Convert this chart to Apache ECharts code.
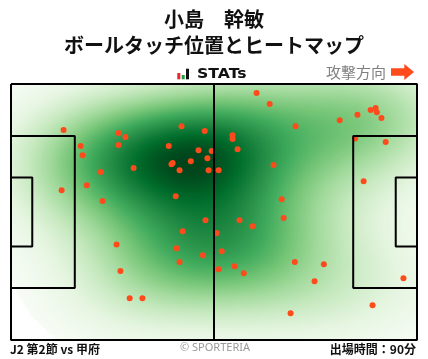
<!DOCTYPE html>
<html><head><meta charset="utf-8">
<script src="https://cdn.jsdelivr.net/npm/echarts@6/dist/echarts.min.js"></script>
<style>html,body{margin:0;padding:0;background:#fff}#c{width:428px;height:359px}</style>
</head><body><div id="c"></div>
<script>
// ---------- data ----------
const titleLines = ['小島　幹敏', 'ボールタッチ位置とヒートマップ'];
const brandLabel = 'STATs';
const directionLabel = '攻撃方向';
const matchLabel = 'J2 第2節 vs 甲府';
const creditLabel = '© SPORTERIA';
const minutesLabel = '出場時間：90分';

// ball touch positions in metres (x: own goal -> attack, y: from top touchline)
const touchX = [13.6,18.0,18.5,27.8,29.6,27.8,23.2,31.7,13.1,19.6,23.7,44.1,50.1,40.8,48.5,51.9,50.8,46.5,41.8,41.5,43.6,51.1,53.7,42.6,57.3,57.3,58.6,63.5,66.9,73.6,67.9,70.0,85.0,89.6,93.0,94.3,94.6,95.8,89.0,96.9,91.2,50.3,44.4,27.3,42.8,49.6,43.6,28.3,30.7,34.0,53.2,54.5,53.7,57.8,60.2,59.1,62.5,70.5,73.4,80.9,78.5,101.5,93.5,72.3];
const touchY = [12.2,16.5,18.9,13.0,14.1,16.2,23.4,22.3,28.2,26.9,31.1,11.2,12.5,16.5,17.6,17.8,19.7,20.5,21.0,21.3,22.9,22.9,22.9,29.8,13.6,14.6,17.3,2.4,5.3,11.2,21.5,30.6,9.6,8.2,6.9,6.4,7.5,9.0,14.5,15.4,25.8,36.2,39.1,42.6,43.6,45.5,47.3,49.7,56.9,56.9,39.6,44.4,49.2,48.4,50.3,36.2,37.8,35.6,47.3,47.9,52.4,51.6,58.8,60.9];

const pitchLength = 105, pitchWidth = 68;
const pitchLines = [
  [[0,0],[105,0],[105,68],[0,68],[0,0]],
  [[52.5,0],[52.5,68]],
  [[0,13.84],[16.5,13.84],[16.5,54.16],[0,54.16]],
  [[0,24.84],[5.5,24.84],[5.5,43.16],[0,43.16]],
  [[105,13.84],[88.5,13.84],[88.5,54.16],[105,54.16]],
  [[105,24.84],[99.5,24.84],[99.5,43.16],[105,43.16]]
];
const greens = ['#f7fcf5','#e5f5e0','#c7e9c0','#a1d99b','#74c476','#41ab5d','#238b45','#006d2c','#00441b'];

// ---------- KDE (gaussian, Scott's rule scaled, full covariance) ----------
const bwAdjust = 1.35;
const n = touchX.length;
const mx = touchX.reduce((a,b)=>a+b,0)/n, my = touchY.reduce((a,b)=>a+b,0)/n;
let sxx=0, syy=0, sxy=0;
for (let i=0;i<n;i++){ const dx=touchX[i]-mx, dy=touchY[i]-my; sxx+=dx*dx; syy+=dy*dy; sxy+=dx*dy; }
sxx/=(n-1); syy/=(n-1); sxy/=(n-1);
const f2 = Math.pow(n, -1/3)*bwAdjust*bwAdjust;
const cxx = sxx*f2, cyy = syy*f2, cxy = sxy*f2;
const det = cxx*cyy - cxy*cxy;
const ixx = cyy/det, iyy = cxx/det, ixy = -cxy/det;
function dens(x,y){
  let s=0;
  for (let i=0;i<n;i++){
    const dx=x-touchX[i], dy=y-touchY[i];
    s += Math.exp(-0.5*(ixx*dx*dx + 2*ixy*dx*dy + iyy*dy*dy));
  }
  return s;
}
const thresh = 0.045;
const NX = 203, NY = 128;
const xCats = [], yCats = [], raw = [];
for (let i=0;i<NX;i++) xCats.push(i);
for (let j=0;j<NY;j++) yCats.push(j);
let dmax = 0;
for (let i=0;i<NX;i++){
  const x = (i+0.5)*pitchLength/NX;
  for (let j=0;j<NY;j++){
    const y = (j+0.5)*pitchWidth/NY;
    const d = dens(x,y); if (d>dmax) dmax=d;
    raw.push([i,j,d]);
  }
}
const heat = raw.filter(c => c[2]/dmax >= thresh).map(c => [c[0], c[1], (c[2]/dmax - thresh)/(1-thresh)]);

// ---------- chart ----------
const chart = echarts.init(document.getElementById('c'), null, {renderer:'canvas'});
const R = {left:11, top:84, width:406, height:256};
const lineSeries = pitchLines.map(p => ({
  type:'line', xAxisIndex:1, yAxisIndex:1, data:p, symbol:'none', clip:false, z:10,
  lineStyle:{color:'#000', width:2}, silent:true, animation:false
}));
const cjk = '"Noto Sans CJK JP", "Noto Sans", sans-serif';
chart.setOption({
  animation:false,
  backgroundColor:'#fff',
  grid:[Object.assign({}, R), Object.assign({}, R)],
  xAxis:[
    {type:'category', gridIndex:0, data:xCats, show:false},
    {type:'value', gridIndex:1, min:0, max:pitchLength, show:false}
  ],
  yAxis:[
    {type:'category', gridIndex:0, data:yCats, show:false, inverse:true},
    {type:'value', gridIndex:1, min:0, max:pitchWidth, show:false, inverse:true}
  ],
  visualMap:{show:false, seriesIndex:0, dimension:2, min:0, max:1, inRange:{color:greens}},
  series:[
    {type:'heatmap', xAxisIndex:0, yAxisIndex:0, data:heat, progressive:0, silent:true, z:1},
    {type:'scatter', xAxisIndex:1, yAxisIndex:1, data:touchX.map((x,i)=>[x,touchY[i]]),
     symbolSize:6, itemStyle:{color:'#ff4a1c', opacity:1}, z:5, silent:true},
    ...lineSeries
  ],
  graphic:[
    {type:'text', left:'center', top:9, style:{text:titleLines[0], font:'bold 20px '+cjk, fill:'#111'}},
    {type:'text', left:'center', top:35, style:{text:titleLines[1], font:'bold 20px '+cjk, fill:'#111'}},
    {type:'rect', shape:{x:177.3, y:73, width:3, height:6.3}, style:{fill:'#e8262b'}},
    {type:'rect', shape:{x:181.7, y:75, width:3, height:4.3}, style:{fill:'#1fa045'}},
    {type:'rect', shape:{x:186, y:68.7, width:3, height:10.6}, style:{fill:'#111'}},
    {type:'text', x:197, y:74, scaleX:1.12, originX:0, style:{text:brandLabel, font:'bold 14px "DejaVu Sans", sans-serif', fill:'#111', textVerticalAlign:'middle'}},
    {type:'text', x:326, y:72.5, style:{text:directionLabel, font:'15px '+cjk, fill:'#808080', textVerticalAlign:'middle'}},
    {type:'polygon', shape:{points:[[391,68.3],[404.3,68.3],[404.3,64],[414,72],[404.3,80],[404.3,75.7],[391,75.7]]}, style:{fill:'#ff4a1c'}},
    {type:'text', x:10, y:349, style:{text:matchLabel, font:'bold 12px '+cjk, fill:'#111', textVerticalAlign:'middle'}},
    {type:'text', x:215, y:348, style:{text:creditLabel, font:'11px "Noto Sans", sans-serif', fill:'#999', textAlign:'center', textVerticalAlign:'middle'}},
    {type:'text', x:416, y:349, style:{text:minutesLabel, font:'bold 12px '+cjk, fill:'#111', textAlign:'right', textVerticalAlign:'middle'}}
  ]
});
</script></body></html>
